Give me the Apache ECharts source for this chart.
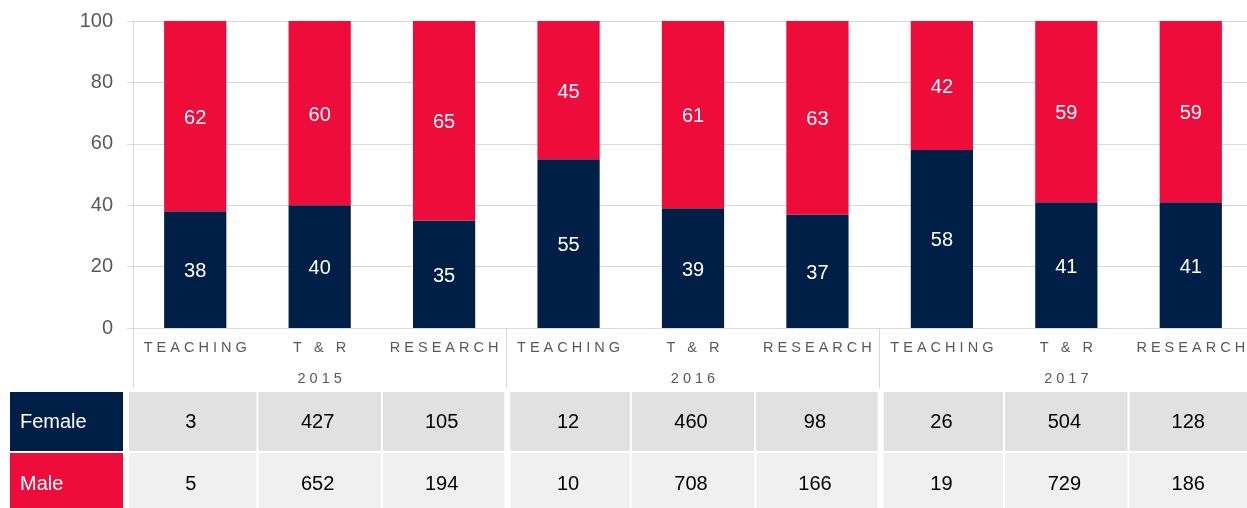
<!DOCTYPE html>
<html>
<head>
<meta charset="utf-8">
<title>Staff by gender</title>
<script src="https://cdn.jsdelivr.net/npm/echarts@6/dist/echarts.min.js"></script>
<style>
    html, body { margin: 0; padding: 0; background: #fff; }
    #chartBox { width: 1247px; height: 508px; }
</style>
</head>
<body>
<div id="chartBox"></div>
<script>
    var categories = ['TEACHING', 'T & R', 'RESEARCH', 'TEACHING', 'T & R', 'RESEARCH', 'TEACHING', 'T & R', 'RESEARCH'];
    var years = ['2015', '2016', '2017'];
    var femalePct = [38, 40, 35, 55, 39, 37, 58, 41, 41];
    var malePct = [62, 60, 65, 45, 61, 63, 42, 59, 59];
    var femaleCount = [3, 427, 105, 12, 460, 98, 26, 504, 128];
    var maleCount = [5, 652, 194, 10, 708, 166, 19, 729, 186];

    var navy = '#001f47';
    var red = '#ee0c3b';
    var lineColor = '#d9d9d9';
    var labelColor = '#595959';
    var fontFamily = "'Liberation Sans', Arial, sans-serif";

    // canvas text has no letter-spacing, so pad the letters by hand
    function spaced(s) {
        return s.split('').join(' ');
    }

    var chart = echarts.init(document.getElementById('chartBox'));

    var option = {
        animation: false,
        textStyle: { fontFamily: fontFamily },
        grid: { left: 133, top: 21, width: 1120, height: 307, outerBoundsMode: 'none' },
        xAxis: [
            {
                type: 'category',
                data: categories.map(spaced),
                axisLine: { show: true, lineStyle: { color: lineColor } },
                axisTick: { show: false },
                axisLabel: { interval: 0, color: labelColor, fontSize: 14.5, margin: 12 }
            },
            {
                type: 'category',
                position: 'bottom',
                data: years.map(spaced),
                axisLine: { show: false },
                axisTick: { show: true, length: 60, lineStyle: { color: lineColor } },
                axisLabel: { color: labelColor, fontSize: 14.5, margin: 43 }
            }
        ],
        yAxis: {
            type: 'value',
            min: 0,
            max: 100,
            interval: 20,
            axisLine: { show: true, lineStyle: { color: lineColor } },
            axisTick: { show: true, length: 6, lineStyle: { color: lineColor } },
            splitLine: { lineStyle: { color: lineColor } },
            axisLabel: { color: labelColor, fontSize: 20, margin: 20 }
        },
        series: [
            {
                name: 'Female',
                type: 'bar',
                stack: 'pct',
                barWidth: '50%',
                data: femalePct,
                itemStyle: { color: navy },
                label: { show: true, position: 'inside', offset: [0, 2], color: '#fff', fontSize: 20 }
            },
            {
                name: 'Male',
                type: 'bar',
                stack: 'pct',
                barWidth: '50%',
                data: malePct,
                itemStyle: { color: red },
                label: { show: true, position: 'inside', offset: [0, 2], color: '#fff', fontSize: 20 }
            }
        ]
    };
    chart.setOption(option);

    // data table under the axis, columns follow the category axis
    var c0 = chart.convertToPixel({ xAxisIndex: 0 }, 0);
    var c1 = chart.convertToPixel({ xAxisIndex: 0 }, 1);
    var step = c1 - c0;
    var rows = [
        { name: 'Female', values: femaleCount, head: navy, fill: '#e1e1e1', y: 392, h: 59 },
        { name: 'Male', values: maleCount, head: red, fill: '#f0f0f0', y: 453, h: 61 }
    ];
    var graphics = [];
    rows.forEach(function (row) {
        graphics.push({
            type: 'rect',
            shape: { x: 10, y: row.y, width: 113, height: row.h },
            style: { fill: row.head }
        });
        graphics.push({
            type: 'text',
            x: 20,
            y: row.y + row.h / 2 + 1,
            style: {
                text: row.name, fill: '#fff', fontSize: 20, fontFamily: fontFamily,
                textAlign: 'left', textVerticalAlign: 'middle'
            }
        });
        for (var i = 0; i < row.values.length; i++) {
            var center = chart.convertToPixel({ xAxisIndex: 0 }, i);
            var left = center - step / 2 + (i % 3 === 0 ? 4 : 1);
            var right = center + step / 2 - (i % 3 === 2 ? 2 : 1);
            if (i === 0) left = center - step / 2 - 4;
            graphics.push({
                type: 'rect',
                shape: { x: left, y: row.y, width: right - left, height: row.h },
                style: { fill: row.fill }
            });
            graphics.push({
                type: 'text',
                x: (left + right) / 2 - 2,
                y: row.y + row.h / 2 + 1,
                style: {
                    text: String(row.values[i]), fill: '#000', fontSize: 20, fontFamily: fontFamily,
                    textAlign: 'center', textVerticalAlign: 'middle'
                }
            });
        }
    });
    chart.setOption({ graphic: graphics });
</script>
</body>
</html>
